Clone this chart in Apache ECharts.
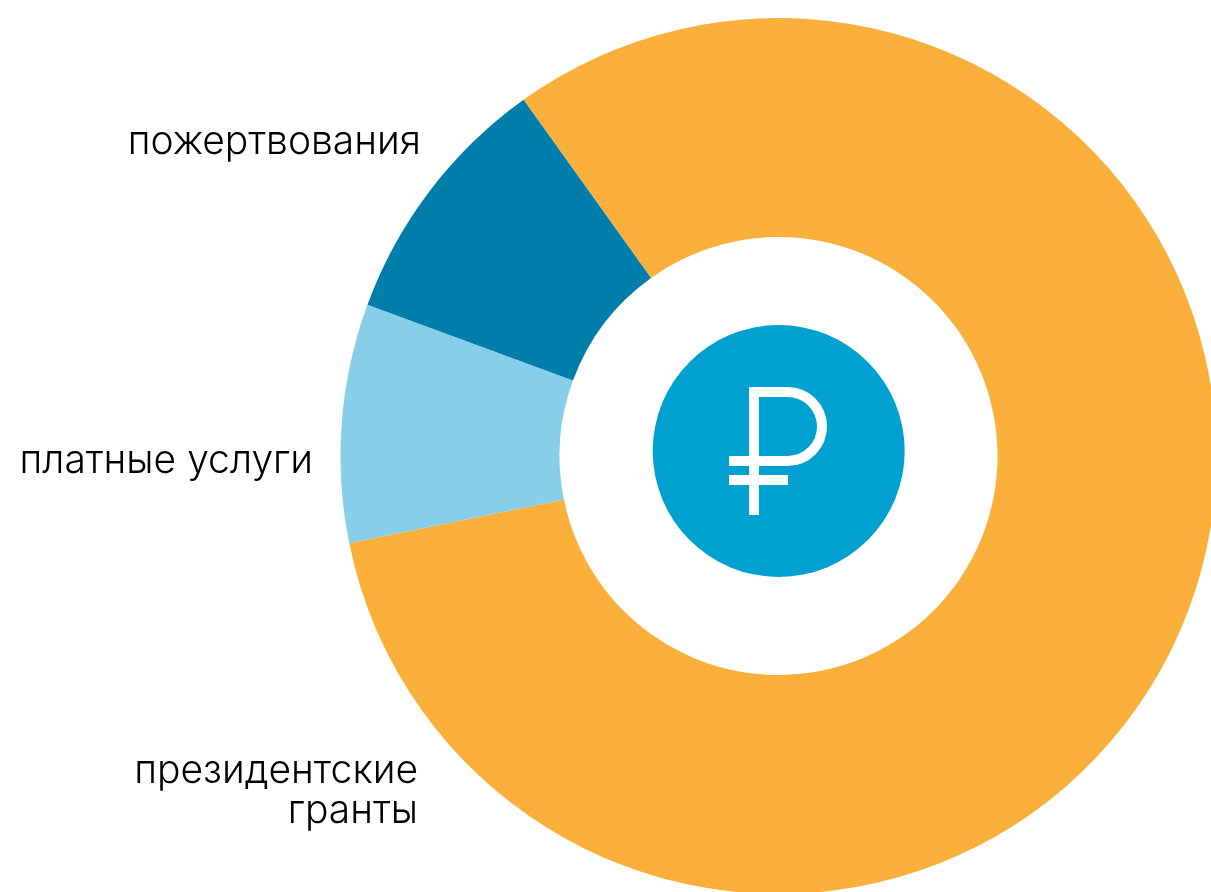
<!DOCTYPE html>
<html><head><meta charset="utf-8">
<style>html,body{margin:0;padding:0;background:#fff}#c{width:1211px;height:892px}</style>
<script src="https://cdn.jsdelivr.net/npm/echarts@6/dist/echarts.min.js"></script>
</head><body><div id="c"></div>
<script>
const categories = ['президентские гранты', 'платные услуги', 'пожертвования'];
const values = [81.7, 8.8, 9.5];
const colors = ['#FBB03B', '#87CEEB', '#007EAB'];
const labelFont = '300 39px Inter, "Noto Sans", sans-serif';
const chart = echarts.init(document.getElementById('c'), null, {renderer:'canvas'});
const sign = {fill:'none', stroke:'#fff', lineWidth:10, lineCap:'butt', lineJoin:'miter'};
chart.setOption({
  animation:false,
  backgroundColor:'#fff',
  series:[
    {type:'pie', center:[778.5,456], radius:[219,438], startAngle:125.6, clockwise:true, silent:true,
     label:{show:false}, labelLine:{show:false},
     itemStyle:{borderWidth:0},
     data:categories.map((n,i)=>({name:n,value:values[i],itemStyle:{color:colors[i]}}))},
    {type:'pie', center:[778.7,451], radius:[0,126], silent:true, label:{show:false}, labelLine:{show:false},
     data:[{name:'центр',value:1,itemStyle:{color:'#00A0D0'}}]}
  ],
  graphic:[
    {type:'text', z:10, silent:true, x:421, y:123, style:{text:categories[2], font:labelFont, fill:'#000', align:'right'}},
    {type:'text', z:10, silent:true, x:313, y:442, style:{text:categories[1], font:labelFont, fill:'#000', align:'right'}},
    {type:'text', z:10, silent:true, x:418, y:751, style:{text:'президентские\nгранты', font:labelFont, lineHeight:40, fill:'#000', align:'right'}},
    {type:'polyline', z:10, silent:true, shape:{points:[[754,515],[754,392],[789,392]]}, style:sign},
    {type:'arc', z:10, silent:true, shape:{cx:787.5, cy:426.5, r:34.5, startAngle:-Math.PI/2, endAngle:Math.PI/2, clockwise:true}, style:sign},
    {type:'polyline', z:10, silent:true, shape:{points:[[729,461],[789,461]]}, style:sign},
    {type:'polyline', z:10, silent:true, shape:{points:[[729,480],[788,480]]}, style:sign}
  ]
});
</script></body></html>
